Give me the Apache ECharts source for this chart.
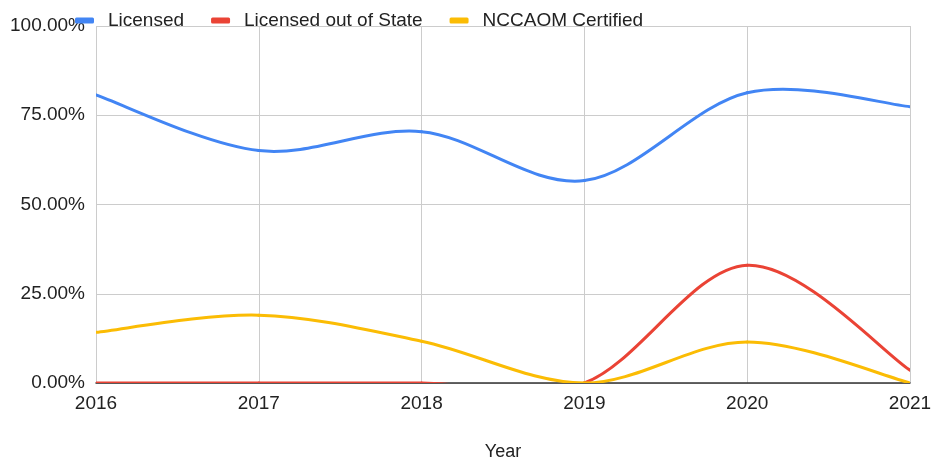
<!DOCTYPE html>
<html>
<head>
<meta charset="utf-8">
<script src="https://cdn.jsdelivr.net/npm/echarts@6/dist/echarts.min.js"></script>
<style>
  html, body { margin: 0; padding: 0; background: #fff; }
  #chart { width: 934px; height: 462px; }
</style>
</head>
<body>
<div id="chart"></div>
<script>
// 年份與各系列百分比
const years = ['2016', '2017', '2018', '2019', '2020', '2021']
const licensed = [80.7, 65.1, 70.4, 56.7, 81.3, 77.4]
const outOfState = [0, 0, 0, 0, 33.0, 3.6]
const nccaom = [14.2, 19.0, 11.7, 0, 11.5, 0]
const yTicks = [0, 25, 50, 75, 100]

const font = '"Liberation Sans", Arial, sans-serif'

const myChart = echarts.init(document.getElementById('chart'))

// Google 式平滑曲線：每段用 Catmull-Rom 轉成貝茲曲線，超出繪圖區的部分被裁掉
function curveSeries(name, values, color) {
  const last = values.length - 1
  return {
    name: name,
    type: 'custom',
    coordinateSystem: 'cartesian2d',
    clip: true,
    itemStyle: { color: color },
    encode: { x: 0, y: 1 },
    data: values.map(function (v, i) { return [i, v] }),
    renderItem: function (params, api) {
      const i = params.dataIndex
      if (i >= last) return null
      const pt = function (j) {
        j = Math.max(0, Math.min(last, j))
        return api.coord([j, values[j]])
      }
      const p0 = pt(i - 1), p1 = pt(i), p2 = pt(i + 1), p3 = pt(i + 2)
      return {
        type: 'bezierCurve',
        shape: {
          x1: p1[0], y1: p1[1],
          x2: p2[0], y2: p2[1],
          cpx1: p1[0] + (p2[0] - p0[0]) / 6,
          cpy1: p1[1] + (p2[1] - p0[1]) / 6,
          cpx2: p2[0] - (p3[0] - p1[0]) / 6,
          cpy2: p2[1] - (p3[1] - p1[1]) / 6
        },
        style: { stroke: color, fill: null, lineWidth: 3, lineCap: 'round' }
      }
    }
  }
}

const myOption = {
  animation: false,
  legend: {
    left: 70,
    top: 6,
    icon: 'roundRect',
    itemWidth: 19,
    itemHeight: 6,
    itemGap: 27,
    textStyle: { fontFamily: font, fontSize: 19, color: '#222', padding: [0, 0, 0, 9] },
    data: ['Licensed', 'Licensed out of State', 'NCCAOM Certified']
  },
  grid: { left: 96, right: 24, top: 26, bottom: 79, outerBoundsMode: 'none' },
  xAxis: {
    type: 'category',
    boundaryGap: false,
    data: years,
    name: 'Year',
    nameLocation: 'middle',
    nameGap: 60,
    nameTextStyle: { fontFamily: font, fontSize: 18, color: '#222' },
    axisLine: { show: true, lineStyle: { color: '#333', width: 1.5 } },
    axisTick: { show: false },
    axisLabel: { fontFamily: font, fontSize: 19, color: '#222', margin: 11 },
    splitLine: { show: true, lineStyle: { color: '#ccc' } }
  },
  yAxis: {
    type: 'value',
    min: 0,
    max: 100,
    interval: 25,
    axisLine: { show: false },
    axisTick: { show: false },
    axisLabel: {
      fontFamily: font,
      fontSize: 19,
      color: '#222',
      margin: 11,
      formatter: function (v) { return yTicks.indexOf(v) >= 0 ? v.toFixed(2) + '%' : '' }
    },
    splitLine: { lineStyle: { color: '#ccc' } }
  },
  series: [
    curveSeries('Licensed', licensed, '#4285F4'),
    curveSeries('Licensed out of State', outOfState, '#EA4335'),
    curveSeries('NCCAOM Certified', nccaom, '#FBBC04')
  ]
}

myChart.setOption(myOption)
</script>
</body>
</html>
